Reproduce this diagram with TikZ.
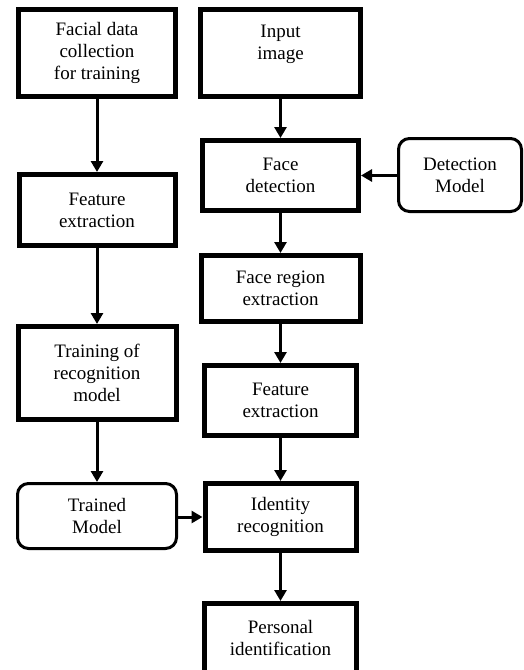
\documentclass[tikz,border=0pt]{standalone}
\usepackage{fontspec}
\setmainfont{Liberation Serif}
\usetikzlibrary{arrows.meta}

\begin{document}
\begin{tikzpicture}[x=1pt, y=-1pt, >={Triangle[length=11pt,width=12pt]}]

    \tikzset{%
    every box/.style={
        rectangle,
        draw,
        line width=5pt,
        align=center,
        font=\fontsize{19}{22}\selectfont,
        inner sep=0pt
        },
    model box/.style={
        line width=3pt,
        rounded corners=11pt
        },
    flow/.style={
        ->,
        line width=3pt
        },
    }

    \useasboundingbox (0,0) rectangle (524,670);

    % Training column (left)
    \node [every box, minimum width=157pt, minimum height=87pt] (collect) at (97,53)
        {Facial data\\collection\\for training};
    \node [every box, minimum width=156pt, minimum height=71pt] (feature-l) at (97,210)
        {Feature\\extraction};
    \node [every box, minimum width=158pt, minimum height=93pt] (training) at (97,373)
        {Training of\\recognition\\model};
    \node [every box, model box, minimum width=159pt, minimum height=65pt] (trained) at (97,516)
        {Trained\\Model};

    % Recognition column (right)
    \node [every box, minimum width=160pt, minimum height=87pt] (input) at (280.5,53)
        {Input\\image\\\mbox{}};
    \node [every box, minimum width=156pt, minimum height=70pt] (detection) at (280.5,175.5)
        {Face\\detection};
    \node [every box, minimum width=159pt, minimum height=66pt] (region) at (280.5,288.5)
        {Face region\\extraction};
    \node [every box, minimum width=152pt, minimum height=70pt] (feature-r) at (280.5,400.5)
        {Feature\\extraction};
    \node [every box, minimum width=151pt, minimum height=67pt] (identity) at (280.5,517)
        {Identity\\recognition};
    \node [every box, minimum width=152pt, minimum height=69pt] (personal) at (280.5,638)
        {Personal\\identification};

    % Detection model
    \node [every box, model box, minimum width=123pt, minimum height=73pt] (det-model) at (460,175)
        {Detection\\Model};

    % Left column arrows
    \draw [flow] (collect) -- (feature-l);
    \draw [flow] (feature-l) -- (training);
    \draw [flow] (training) -- (trained);

    % Right column arrows
    \draw [flow] (input) -- (detection);
    \draw [flow] (detection) -- (region);
    \draw [flow] (region) -- (feature-r);
    \draw [flow] (feature-r) -- (identity);
    \draw [flow] (identity) -- (personal);

    % Models feeding in
    \draw [flow] (det-model.west |- detection.east) -- (detection.east);
    \draw [flow] (trained.east |- identity.west) -- (identity.west);

\end{tikzpicture}
\end{document}
